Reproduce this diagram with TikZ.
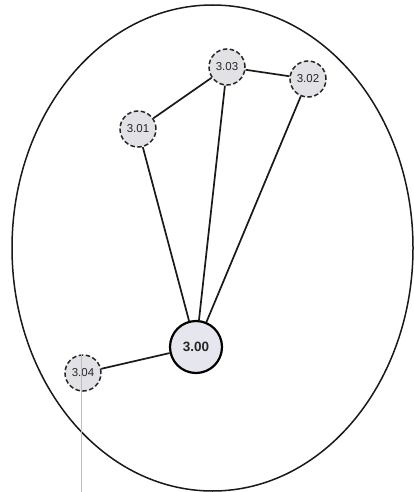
\documentclass[tikz,border=0pt]{standalone}
\usepackage{fontspec}
\setmainfont{Liberation Sans}
\usetikzlibrary{shapes.geometric}
\definecolor{nodefill}{HTML}{E2E2E6}
\definecolor{mainfill}{HTML}{E6E6EE}
\definecolor{pinkline}{HTML}{DEA6E8}
\tikzset{
  sub/.style={circle, draw=black!85, dashed, dash pattern=on 4.5pt off 2.5pt, line width=1.5pt, fill=nodefill, minimum size=36pt, inner sep=0pt, text=black!85, font=\fontsize{11.5}{12}\selectfont},
  hub/.style={circle, draw=black, line width=2.2pt, fill=mainfill, minimum size=52pt, inner sep=0pt, text=black!85, font=\fontsize{13.5}{14}\selectfont\bfseries},
  link/.style={draw=black!90, line width=1.7pt},
  border/.style={draw=black!90, line width=1.5pt}
}
\begin{document}
\begin{tikzpicture}[x=1pt,y=-1pt]
\useasboundingbox (0,0) rectangle (413,492);
\fill[white] (0,0) rectangle (413,492);
\node[border, ellipse, minimum width=401pt, minimum height=486pt, inner sep=0pt] (outer) at (212.5,248) {};
\node[hub] (c) at (196,347) {3.00};
\node[sub] (n3) at (227,67) {3.03};
\node[sub] (n2) at (308,79) {3.02};
\node[sub] (n1) at (138,129) {3.01};
\node[sub] (n4) at (83,373) {3.04};
\coordinate (pinkend) at (81,492);
\draw[link] (n1) -- (n3);
\draw[link] (n3) -- (n2);
\draw[link] (n1) -- (c);
\draw[link] (n3) -- (c);
\draw[link] (n2) -- (c);
\draw[link] (n4) -- (c);
\draw[pinkline, line width=1pt] (n4.north -| pinkend) -- (pinkend);
\end{tikzpicture}
\end{document}
